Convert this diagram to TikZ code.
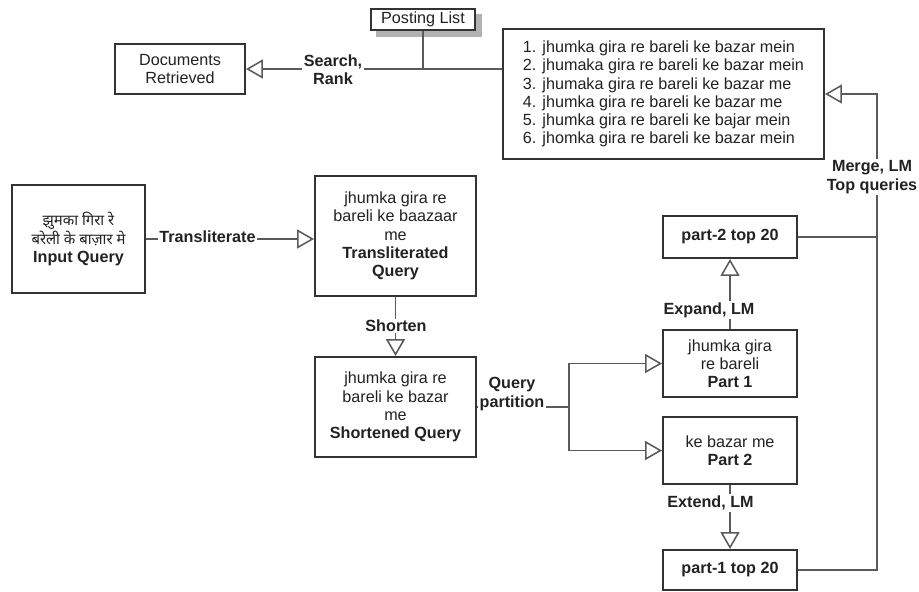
\documentclass[tikz,border=0pt]{standalone}
\usepackage{fontspec}
\setmainfont{Liberation Sans}
\newfontfamily\hindifont[Script=Devanagari]{Noto Sans}
\usetikzlibrary{arrows.meta}
\definecolor{boxline}{HTML}{333333}
\definecolor{linkline}{HTML}{5A5A5A}
\definecolor{txt}{HTML}{222222}

\begin{document}
\begin{tikzpicture}[x=0.025cm,y=-0.025cm,
	box/.style={draw=boxline,fill=white,line width=1.4pt,align=center,text=txt,
		font=\fontsize{11.5}{13}\selectfont,inner sep=2pt},
	lbl/.style={fill=white,align=center,text=txt,
		font=\fontsize{11.5}{13}\selectfont\bfseries,inner sep=1pt},
	link/.style={draw=linkline,line width=1pt},
	arr/.style={link,-{Triangle[open,length=12pt,width=13.5pt,line width=1.1pt]}}]
	\useasboundingbox (0,0) rectangle (919,591);

	% shadow of the posting list box
	\node[fill=black!30,inner sep=0pt,minimum width=2.65cm,minimum height=0.56cm] (postshadow) at (429,25.5) {};
	\node[box,inner sep=1pt,minimum width=2.6cm,minimum height=0.525cm] (posting) at (423,19.5) {Posting List};
	\node[box,minimum width=3.25cm,minimum height=1.25cm] (docs) at (180,69) {Documents\\Retrieved};
	\node[box,align=left,minimum width=8.025cm,minimum height=3.25cm] (list) at (663.5,94)
		{1. jhumka gira re bareli ke bazar mein\\2. jhumaka gira re bareli ke bazar mein\\3. jhumaka gira re bareli ke bazar me\\4. jhumka gira re bareli ke bazar me\\5. jhumka gira re bareli ke bajar mein\\6. jhomka gira re bareli ke bazar mein};

	\node[box,minimum width=3.325cm,minimum height=2.7cm] (input) at (78.5,239)
		{{\hindifont\fontsize{10.6}{13}\selectfont झुमका गिरा रे}\\{\hindifont\fontsize{10.6}{13}\selectfont बरेली के बाज़ार मे}\\\textbf{Input Query}};
	\node[box,minimum width=4.025cm,minimum height=3cm] (trans) at (395.5,236)
		{jhumka gira re\\bareli ke baazaar\\me\\\textbf{Transliterated}\\\textbf{Query}};
	\node[box,minimum width=4.025cm,minimum height=2.5cm] (short) at (395.5,407)
		{jhumka gira re\\bareli ke bazar\\me\\\textbf{Shortened Query}};

	\node[box,minimum width=3.35cm,minimum height=1.05cm] (p2top) at (730,237) {\textbf{part-2 top 20}};
	\node[box,minimum width=3.35cm,minimum height=1.675cm] (part1) at (730,363.5) {jhumka gira\\re bareli\\\textbf{Part 1}};
	\node[box,minimum width=3.35cm,minimum height=1.675cm] (part2) at (730,450.5) {ke bazar me\\\textbf{Part 2}};
	\node[box,minimum width=3.35cm,minimum height=1cm] (p1top) at (730,570) {\textbf{part-1 top 20}};

	\coordinate (split) at (569,407);
	\coordinate (turn) at (877,94);

	\draw[arr] (list.west |- docs.east) -- (docs.east);
	\draw[link] (posting.south) -- (posting.south |- docs.east);
	\draw[arr] (input.east) -- (input.east -| trans.west);
	\draw[arr] (trans.south) -- (short.north);
	\draw[link] (short.east) -- (split);
	\draw[arr] (split) |- (part1.west);
	\draw[arr] (split) |- (part2.west);
	\draw[arr] (part1.north) -- (p2top.south);
	\draw[arr] (part2.south) -- (p1top.north);
	\draw[arr] (p1top.east) -| (turn) -- (list.east);
	\draw[link] (p2top.east) -- (p2top.east -| turn);

	\node[lbl] (search) at (333,70) {Search,\\Rank};
	\node[lbl] (translit) at (207.5,237) {Transliterate};
	\node[lbl] (shorten) at (396,326) {Shorten};
	\node[lbl] (partition) at (512,394) {Query\\partition};
	\node[lbl] (expand) at (709,310) {Expand, LM};
	\node[lbl] (extend) at (710.5,503) {Extend, LM};
	\node[lbl] (merge) at (872,177) {Merge, LM\\Top queries};
\end{tikzpicture}
\end{document}
